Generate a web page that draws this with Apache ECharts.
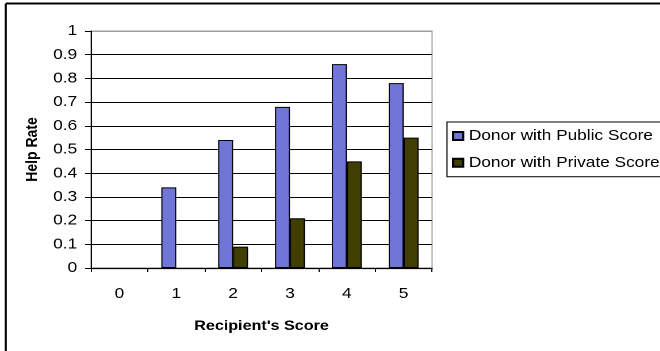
<!DOCTYPE html>
<html>
<head>
<meta charset="utf-8">
<script src="https://cdn.jsdelivr.net/npm/echarts@6/dist/echarts.min.js"></script>
<style>
    html, body { margin: 0; padding: 0; background: #fff; overflow: hidden; }
    /* the original picture is stretched sideways, so the chart is drawn narrow and widened */
    #main { width: 574px; height: 351px; transform: scale(1.15, 1); transform-origin: 0 0; }
</style>
</head>
<body>
<div id="main"></div>
<script>
// 数据
var categories = ['0', '1', '2', '3', '4', '5'];
var publicScore = [0, 0.34, 0.54, 0.68, 0.86, 0.78];
var privateScore = [0, 0, 0.09, 0.21, 0.45, 0.55];
var seriesNames = ['Donor with Public Score', 'Donor with Private Score'];
var yTicks = [0, 0.1, 0.2, 0.3, 0.4, 0.5, 0.6, 0.7, 0.8, 0.9, 1];

(function () {
    var myChart = echarts.init(document.getElementById('main'), null, { devicePixelRatio: 2 });
    var font = 'Liberation Sans';

    // 分隔线颜色: 最上面一条是灰色
    var splitColors = yTicks.map(function (v, i) {
        return i === yTicks.length - 1 ? '#a0a0a0' : '#000';
    });

    // 值为0的柱子不画边框
    function toItems(arr) {
        return arr.map(function (v) {
            return v === 0 ? { value: v, itemStyle: { borderWidth: 0, opacity: 0 } } : v;
        });
    }

    var option = {
        backgroundColor: '#fff',
        animation: false,
        textStyle: { fontFamily: font, color: '#000' },
        // 外框 (只看得见左边和上边)
        graphic: [
            { type: 'line', shape: { x1: 5, y1: 3.5, x2: 574, y2: 3.5 }, style: { stroke: '#000', lineWidth: 2 } },
            { type: 'line', shape: { x1: 5, y1: 3.5, x2: 5, y2: 351 }, style: { stroke: '#000', lineWidth: 1.8 } }
        ],
        grid: {
            left: 79.1,
            right: 198.3,
            top: 31,
            bottom: 83,
            show: true,
            borderColor: '#a0a0a0',
            borderWidth: 1
        },
        legend: {
            orient: 'vertical',
            left: 388.7,
            top: 122,
            padding: [6, 1, 6, 4.3],
            itemGap: 10.7,
            itemWidth: 8.7,
            itemHeight: 8,
            icon: 'rect',
            borderColor: '#000',
            borderWidth: 1,
            textStyle: { fontFamily: font, fontSize: 15, color: '#000', lineHeight: 16 },
            data: seriesNames
        },
        xAxis: {
            type: 'category',
            data: categories,
            z: 3,
            name: "Recipient's Score",
            nameLocation: 'middle',
            nameGap: 51,
            nameTextStyle: { fontFamily: font, fontSize: 14, fontWeight: 'bold', color: '#000' },
            axisLine: { lineStyle: { color: '#000', width: 1.2 } },
            axisTick: { show: true, length: 4, lineStyle: { color: '#000' } },
            axisLabel: { fontFamily: font, fontSize: 15, color: '#000', margin: 18.5 }
        },
        yAxis: {
            type: 'value',
            min: 0,
            max: 1,
            interval: 0.1,
            name: 'Help Rate',
            nameLocation: 'middle',
            nameGap: 44,
            nameTextStyle: { fontFamily: font, fontSize: 14, fontWeight: 'bold', color: '#000' },
            axisLine: { show: true, lineStyle: { color: '#000', width: 1 } },
            axisTick: { show: true, length: 5.2, lineStyle: { color: '#000' } },
            axisLabel: {
                fontFamily: font,
                fontSize: 15,
                color: '#000',
                margin: 12,
                formatter: function (v) { return String(Math.round(v * 10) / 10); }
            },
            splitLine: { lineStyle: { color: splitColors, width: 1 } }
        },
        series: [
            {
                name: seriesNames[0],
                type: 'bar',
                data: toItems(publicScore),
                barWidth: 13,
                barGap: '0%',
                itemStyle: { color: '#7076d8', borderColor: '#000', borderWidth: 1 }
            },
            {
                name: seriesNames[1],
                type: 'bar',
                data: toItems(privateScore),
                barWidth: 13,
                itemStyle: { color: '#403e00', borderColor: '#000', borderWidth: 1 }
            }
        ]
    };
    myChart.setOption(option);
})();
</script>
</body>
</html>
